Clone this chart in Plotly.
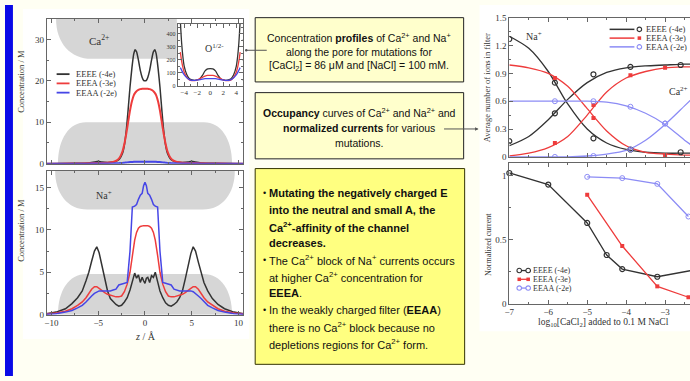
import plotly.graph_objects as go

# ---------------- data ----------------
# Ca2+ concentration profiles (top-left panel)
Z_CA = [-10.5, -9, -7.5, -6, -5.4, -5, -4.6, -4, -3.4, -3, -2.7, -2.4, -2.2, -2.0, -1.8, -1.6, -1.4, -1.2, -1.05,
        -0.9, -0.7, -0.5, -0.3, -0.15, 0, 0.15, 0.3, 0.5, 0.7, 0.9, 1.05, 1.2, 1.4, 1.6, 1.8, 2.0, 2.2, 2.4, 2.7,
        3, 3.4, 4, 4.6, 5, 5.4, 6, 7.5, 9, 10.5]
CA_EEEE = [0, 0.05, 0.1, 0.2, 0.4, 0.6, 0.4, 0.3, 0.4, 0.7, 1.2, 2.5, 4.5, 8, 13, 18.5, 23, 26.5, 27.5,
           27, 25, 22.5, 20.8, 20.1, 20, 20.1, 20.8, 22.5, 25, 27, 27.5, 26.5, 23, 18.5, 13, 8, 4.5, 2.5, 1.2,
           0.7, 0.4, 0.3, 0.4, 0.6, 0.4, 0.2, 0.1, 0.05, 0]
CA_EEEA = [0, 0.02, 0.05, 0.1, 0.15, 0.2, 0.2, 0.25, 0.4, 0.8, 1.5, 3, 4.8, 7.2, 10, 12.8, 15, 16.5, 17.1,
           17.5, 17.8, 18, 18.1, 18.1, 18.1, 18.1, 18.1, 18, 17.8, 17.5, 17.1, 16.5, 15, 12.8, 10, 7.2, 4.8, 3, 1.5,
           0.8, 0.4, 0.25, 0.2, 0.2, 0.15, 0.1, 0.05, 0.02, 0]
CA_EEAA = [0, 0, 0.01, 0.02, 0.03, 0.04, 0.04, 0.05, 0.08, 0.1, 0.15, 0.2, 0.25, 0.3, 0.35, 0.4, 0.42, 0.45, 0.46,
           0.47, 0.48, 0.5, 0.5, 0.5, 0.5, 0.5, 0.5, 0.5, 0.48, 0.47, 0.46, 0.45, 0.42, 0.4, 0.35, 0.3, 0.25, 0.2, 0.15,
           0.1, 0.08, 0.05, 0.04, 0.04, 0.03, 0.02, 0.01, 0, 0]

# O1/2- inset
Z_O = [-4.6, -4.4, -4.2, -4.0, -3.6, -3.2, -2.8, -2.4, -2.0, -1.6, -1.2, -0.8, -0.4, 0,
       0.4, 0.8, 1.2, 1.6, 2.0, 2.4, 2.8, 3.2, 3.6, 4.0, 4.2, 4.4, 4.6]
O_EEEE = [500, 330, 220, 150, 85, 55, 45, 42, 45, 55, 80, 115, 130, 132,
          130, 115, 80, 55, 45, 42, 45, 55, 85, 150, 220, 330, 500]
O_EEEA = [260, 190, 140, 105, 65, 45, 40, 40, 45, 55, 65, 75, 80, 80,
          80, 75, 65, 55, 45, 40, 40, 45, 65, 105, 140, 190, 260]
O_EEAA = [140, 120, 100, 85, 62, 48, 42, 42, 45, 48, 52, 55, 55, 55,
          55, 55, 52, 48, 45, 42, 42, 48, 62, 85, 100, 120, 140]

# Na+ concentration profiles (bottom-left panel)
Z_NA = [-10.5, -9.5, -8.5, -7.8, -7.2, -6.7, -6.3, -6.0, -5.7, -5.4, -5.15, -4.9, -4.6, -4.3, -4.0, -3.7, -3.4,
        -3.1, -2.8, -2.5, -2.2, -1.9, -1.6, -1.35, -1.1, -0.9, -0.7, -0.5, -0.3, -0.15, 0, 0.15, 0.3, 0.5, 0.7,
        0.9, 1.1, 1.35, 1.6, 1.9, 2.2, 2.5, 2.8, 3.1, 3.4, 3.7, 4.0, 4.3, 4.6, 4.9, 5.15, 5.4, 5.7, 6.0, 6.3,
        6.7, 7.2, 7.8, 8.5, 9.5, 10.5]
NA_EEEE = [0.1, 0.3, 0.7, 1.3, 2.0, 2.8, 4.0, 5.0, 6.3, 7.5, 8.0, 7.3, 5.8, 4.2, 2.8, 1.9, 1.5,
           1.2, 1.0, 1.1, 1.5, 2.0, 2.9, 3.8, 4.9, 4.3, 4.7, 3.8, 4.4, 4.0, 3.7, 4.3, 4.4, 3.8, 4.6,
           4.4, 5.0, 3.9, 2.8, 2.0, 1.4, 1.1, 1.0, 1.2, 1.5, 2.0, 2.8, 4.2, 5.8, 7.2, 8.0, 7.5, 6.2, 5.0, 3.8,
           2.8, 1.9, 1.2, 0.7, 0.3, 0.1]
NA_EEEA = [0.1, 0.2, 0.4, 0.7, 1.1, 1.5, 2.0, 2.5, 3.0, 3.3, 3.3, 3.1, 2.8, 2.6, 2.4, 2.3, 2.2,
           2.1, 2.1, 2.2, 2.7, 3.6, 5.0, 7.0, 8.8, 9.7, 10.2, 10.4, 10.5, 10.5, 10.5, 10.5, 10.5, 10.4, 10.2,
           9.7, 8.8, 7.0, 5.0, 3.6, 2.7, 2.2, 2.1, 2.1, 2.2, 2.3, 2.4, 2.6, 2.8, 3.1, 3.3, 3.3, 3.0, 2.5, 2.0,
           1.5, 1.1, 0.7, 0.4, 0.2, 0.1]
NA_EEAA = [0.05, 0.1, 0.3, 0.5, 0.8, 1.1, 1.5, 1.9, 2.2, 2.5, 2.7, 2.8, 2.8, 2.8, 2.8, 2.8, 2.9,
           3.0, 3.5, 3.6, 3.7, 3.8, 7.5, 12.7, 12.8, 13.0, 13.6, 14.1, 14.3, 15.2, 15.6, 15.2, 14.3, 14.1, 13.6,
           13.0, 12.8, 12.7, 7.5, 3.8, 3.7, 3.6, 3.5, 3.0, 2.9, 2.8, 2.8, 2.8, 2.8, 2.8, 2.7, 2.5, 2.2, 1.9, 1.5,
           1.1, 0.8, 0.5, 0.3, 0.1, 0.05]

# Occupancy (top-right panel): fitted curves
LOGC = [-7, -6.5, -6, -5.5, -5, -4.5, -4, -3.5, -3, -2.5, -2.3]
OCC_NA_EEEE = [1.30, 1.17, 0.92, 0.57, 0.30, 0.15, 0.08, 0.05, 0.04, 0.04, 0.04]
OCC_CA_EEEE = [0.12, 0.22, 0.40, 0.62, 0.80, 0.91, 0.96, 0.98, 0.99, 1.0, 1.0]
OCC_NA_EEEA = [0.99, 0.96, 0.90, 0.76, 0.52, 0.28, 0.12, 0.05, 0.03, 0.02, 0.02]
OCC_CA_EEEA = [0.01, 0.04, 0.10, 0.22, 0.45, 0.70, 0.85, 0.92, 0.96, 0.97, 0.97]
OCC_NA_EEAA = [0.60, 0.60, 0.60, 0.60, 0.60, 0.59, 0.55, 0.47, 0.35, 0.18, 0.12]
OCC_CA_EEAA = [0.0, 0.0, 0.0, 0.0, 0.01, 0.03, 0.07, 0.18, 0.35, 0.55, 0.63]
# Occupancy simulation points
PT_EEEE_X = [-7, -5.83, -4.84, -3.89, -2.6]
PT_EEEE_NA = [1.27, 0.80, 0.20, 0.08, 0.05]
PT_EEEE_CA = [0.17, 0.47, 0.89, 0.97, 0.99]
PT_EEEA_NA_X = [-5.83, -4.84, -3.0]
PT_EEEA_NA = [0.85, 0.42, 0.02]
PT_EEEA_CA_X = [-5.83, -4.84, -3.89, -3.0]
PT_EEEA_CA = [0.15, 0.56, 0.88, 0.96]
PT_EEAA_X = [-5.83, -4.84, -3.89, -3.0]
PT_EEAA_NA = [0.60, 0.60, 0.54, 0.36]
PT_EEAA_CA = [0.0, 0.01, 0.08, 0.36]

# Normalized current (bottom-right panel)
CUR_EEEE_X = [-7, -6, -5, -4.5, -4.1, -3.2, -2.3]
CUR_EEEE = [1.02, 0.93, 0.63, 0.38, 0.27, 0.21, 0.26]
CUR_EEEA_X = [-5, -4.1, -3.2, -2.4]
CUR_EEEA = [0.85, 0.45, 0.135, 0.05]
CUR_EEAA_X = [-5, -4.1, -3.2, -2.4]
CUR_EEAA = [0.99, 0.98, 0.935, 0.68]

NAMES = ["EEEE (-4e)", "EEEA (-3e)", "EEAA (-2e)"]

# ---------------- style ----------------
W, H = 690, 381
SERIF = "Liberation Serif, Times New Roman, serif"
SANS = "Liberation Sans, Arial, sans-serif"
BLACK = "#333333"
RED = "#ee3c3c"
BLUE = "#4646e6"
LBLUE = "#8c8cf5"
GRAY = "#d6d6d6"
AXC = "#666666"
TXT = "#333333"
COLORS = [BLACK, RED, BLUE]
COLORS_R = [BLACK, RED, LBLUE]


def px(x):
    return x / W


def py(y):
    return 1 - y / H


fig = go.Figure()

# Ca panel
for y, c, w in [(CA_EEEE, BLACK, 1.5), (CA_EEEA, RED, 2), (CA_EEAA, BLUE, 2)]:
    fig.add_trace(go.Scatter(x=Z_CA, y=y, mode="lines", line=dict(color=c, width=w, shape="spline", smoothing=0.6),
                             showlegend=False, xaxis="x", yaxis="y"))
# inset
for y, c in [(O_EEEE, BLACK), (O_EEEA, RED), (O_EEAA, BLUE)]:
    fig.add_trace(go.Scatter(x=Z_O, y=y, mode="lines", line=dict(color=c, width=1.3, shape="spline", smoothing=0.8),
                             showlegend=False, xaxis="x3", yaxis="y3"))
# Na panel
for y, c in [(NA_EEEE, BLACK), (NA_EEEA, RED), (NA_EEAA, BLUE)]:
    fig.add_trace(go.Scatter(x=Z_NA, y=y, mode="lines", line=dict(color=c, width=1.5),
                             showlegend=False, xaxis="x2", yaxis="y2"))

# occupancy curves
for y, c in [(OCC_NA_EEEE, BLACK), (OCC_CA_EEEE, BLACK), (OCC_NA_EEEA, RED), (OCC_CA_EEEA, RED),
             (OCC_NA_EEAA, LBLUE), (OCC_CA_EEAA, LBLUE)]:
    fig.add_trace(go.Scatter(x=LOGC, y=y, mode="lines", line=dict(color=c, width=1.3, shape="spline", smoothing=0.8),
                             showlegend=False, xaxis="x4", yaxis="y4"))
mk_black = dict(symbol="circle-open", size=5, color=BLACK, line=dict(width=1.2))
mk_red = dict(symbol="square", size=4, color=RED)
mk_blue = dict(symbol="circle-open", size=5, color=LBLUE, line=dict(width=1))
for xs, ys, mk in [(PT_EEEE_X, PT_EEEE_NA, mk_black), (PT_EEEE_X, PT_EEEE_CA, mk_black),
                   (PT_EEEA_NA_X, PT_EEEA_NA, mk_red), (PT_EEEA_CA_X, PT_EEEA_CA, mk_red),
                   (PT_EEAA_X, PT_EEAA_NA, mk_blue), (PT_EEAA_X, PT_EEAA_CA, mk_blue)]:
    fig.add_trace(go.Scatter(x=xs, y=ys, mode="markers", marker=mk, showlegend=False, xaxis="x4", yaxis="y4"))

# normalized current
for xs, ys, c, mk in [(CUR_EEEE_X, CUR_EEEE, BLACK, mk_black),
                      (CUR_EEEA_X, CUR_EEEA, RED, mk_red),
                      (CUR_EEAA_X, CUR_EEAA, LBLUE, mk_blue)]:
    fig.add_trace(go.Scatter(x=xs, y=ys, mode="lines+markers", line=dict(color=c, width=1.3), marker=mk,
                             showlegend=False, xaxis="x5", yaxis="y5", cliponaxis=False))


def axis(domain, rng, dtick, minor, labels=True, mirror="allticks", anchor=None, fs=9):
    d = dict(domain=domain, range=rng, showline=True, linecolor=AXC, linewidth=1, mirror=mirror,
             ticks="inside", ticklen=4, tickcolor=AXC, tickwidth=1, dtick=dtick, tick0=0,
             showticklabels=labels, tickfont=dict(family=SERIF, size=fs, color=TXT),
             showgrid=False, zeroline=False, fixedrange=True,
             minor=dict(ticks="inside", ticklen=2, tickcolor=AXC, dtick=minor, tick0=0, showgrid=False))
    if anchor:
        d["anchor"] = anchor
    return d


XD_L = [px(42), px(240)]
XD_R = [px(508), 1.0]
fig.update_layout(
    width=W, height=H, margin=dict(l=0, r=0, t=0, b=0),
    paper_bgcolor="#fffff3", plot_bgcolor="white", showlegend=False,
    xaxis=axis(XD_L, [-10.5, 10.5], 5, 2.5, labels=False, anchor="y"),
    yaxis=axis([py(163), py(14)], [0, 35], 10, 5, anchor="x"),
    xaxis2=axis(XD_L, [-10.5, 10.5], 5, 2.5, anchor="y2"),
    yaxis2=axis([py(318), py(170)], [0, 17], 5, 2.5, anchor="x2"),
    xaxis3=axis([px(174), px(239.5)], [-5, 5], 2, 1, anchor="y3", fs=7),
    yaxis3=axis([py(83), py(19)], [0, 480], 100, 50, anchor="x3", fs=6),
    xaxis4=axis(XD_R, [-7, -2.36], 1, 0.5, labels=False, anchor="y4"),
    yaxis4=axis([py(156), py(13)], [0, 1.5], 0.3, 0.15, mirror=False, anchor="x4"),
    xaxis5=axis(XD_R, [-7, -2.36], 1, 0.5, anchor="y5"),
    yaxis5=axis([py(306.7), py(162)], [0, 1.1], 0.5, 0.25, mirror=False, anchor="x5"),
)

shapes = []
# slide decorations
shapes.append(dict(type="rect", xref="paper", yref="paper", x0=0, x1=px(8), y0=0, y1=1,
                   fillcolor="#0a0ae6", line=dict(width=0), layer="below"))
shapes.append(dict(type="rect", xref="paper", yref="paper", x0=px(18), x1=px(246), y0=py(343), y1=py(4),
                   fillcolor="white", line=dict(width=0), layer="below"))
shapes.append(dict(type="rect", xref="paper", yref="paper", x0=px(478), x1=1, y0=py(335), y1=1,
                   fillcolor="white", line=dict(width=0), layer="below"))
# text boxes
shapes.append(dict(type="rect", xref="paper", yref="paper", x0=px(252), x1=px(462), y0=py(79), y1=py(13),
                   fillcolor="#ffffcc", line=dict(color="#222222", width=1), layer="below"))
shapes.append(dict(type="rect", xref="paper", yref="paper", x0=px(252), x1=px(462), y0=py(158), y1=py(90),
                   fillcolor="#ffffcc", line=dict(color="#222222", width=1), layer="below"))
shapes.append(dict(type="rect", xref="paper", yref="paper", x0=px(252), x1=px(463), y0=py(369), y1=py(168),
                   fillcolor="#ffff80", line=dict(color="#333300", width=1), layer="below"))


def pore_bottom(xr, yr, x0, x1, h, r):
    return dict(type="path", xref=xr, yref=yr, layer="below", fillcolor=GRAY, line=dict(width=0),
                path=f"M {x0},0 C {x0},{0.6*h} {x0+0.4*r},{h} {x0+r},{h} L {x1-r},{h} "
                     f"C {x1-0.4*r},{h} {x1},{0.6*h} {x1},0 Z")


def pore_top(xr, yr, x0, x1, top, low, r, flat_right=False):
    h = top - low
    if flat_right:
        p = (f"M {x0},{top} C {x0},{top-0.6*h} {x0+0.4*r},{low} {x0+r},{low} L {x1},{low} L {x1},{top} Z")
    else:
        p = (f"M {x0},{top} C {x0},{top-0.6*h} {x0+0.4*r},{low} {x0+r},{low} L {x1-r},{low} "
             f"C {x1-0.4*r},{low} {x1},{top-0.6*h} {x1},{top} Z")
    return dict(type="path", xref=xr, yref=yr, layer="below", fillcolor=GRAY, line=dict(width=0), path=p)


shapes.append(pore_bottom("x", "y", -9.3, 9.3, 10, 3.0))
shapes.append(pore_top("x", "y", -9.5, 3.4, 35, 25.3, 3.8, flat_right=True))
shapes.append(pore_bottom("x2", "y2", -9.3, 9.3, 4.8, 3.0))
shapes.append(pore_top("x2", "y2", -9.6, 9.6, 17, 12.4, 3.4))

ann = []


def text(x, y, t, size=9, family=SANS, xanchor="center", color="#111111", angle=0, yanchor="middle"):
    ann.append(dict(x=px(x), y=py(y), xref="paper", yref="paper", text=t, showarrow=False, xanchor=xanchor,
                    yanchor=yanchor, textangle=angle, font=dict(family=family, size=size, color=color)))


# ---- hand-made legends (line samples + marker glyphs in page pixels) ----
def seg(x0, x1, y, color, w=1.5):
    shapes.append(dict(type="line", xref="paper", yref="paper", x0=px(x0), x1=px(x1), y0=py(y), y1=py(y),
                       line=dict(color=color, width=w)))


def dot(cx, cy, color, kind):
    r = 2.3
    if kind == "square":
        shapes.append(dict(type="rect", xref="paper", yref="paper", x0=px(cx - 1.8), x1=px(cx + 1.8),
                           y0=py(cy + 1.8), y1=py(cy - 1.8), fillcolor=color, line=dict(width=0)))
    else:
        shapes.append(dict(type="circle", xref="paper", yref="paper", x0=px(cx - r), x1=px(cx + r),
                           y0=py(cy + r), y1=py(cy - r), fillcolor="white",
                           line=dict(color=color, width=1.1)))


KINDS = ["circle", "square", "circle"]
# Ca panel legend
for i, (n, c) in enumerate(zip(NAMES, COLORS)):
    y = 71 + 9.5 * i
    seg(52, 65, y, c, 1.8)
    text(70, y, n, 8.5, SERIF, xanchor="left", color=TXT)
# occupancy legend
for i, (n, c, k) in enumerate(zip(NAMES, COLORS_R, KINDS)):
    y = 25 + 9 * i
    seg(609, 634, y, c, 1.5)
    dot(639, y, c, k)
    text(644, y, n, 8.5, SERIF, xanchor="left", color=TXT)
# current legend
for i, (n, c, k) in enumerate(zip(NAMES, COLORS_R, KINDS)):
    y = 272.7 + 9 * i
    seg(518, 527, y, c, 1.3)
    dot(518, y, c, k)
    dot(527, y, c, k)
    text(530, y, n, 8, SERIF, xanchor="left", color=TXT)

# axis titles
text(16, 78, "Concentration / M", 8.5, SERIF, color=TXT, angle=-90)
text(16, 231, "Concentration / M", 8.5, SERIF, color=TXT, angle=-90)
text(142, 340, "<i>z</i> / Å", 10, SERIF, color=TXT)
text(485, 85, "Average number of ions in filter", 8.5, SERIF, color=TXT, angle=-90)
text(487, 246, "Normalized current", 8, SERIF, color=TXT, angle=-90)
text(603, 326, "log<sub>10</sub>[CaCl<sub>2</sub>] added to 0.1 M NaCl", 9.5, SERIF, color=TXT)
# panel labels
text(95, 36, "Ca<sup>2+</sup>", 11, SERIF, color=TXT)
text(100, 195, "Na<sup>+</sup>", 10, SERIF, color=TXT)
text(211, 44, "O<sup>1/2-</sup>", 10, SERIF, color=TXT)
text(533, 32, "Na<sup>+</sup>", 10, SERIF, color=TXT)
text(690, 88, "Ca<sup>2+</sup>", 10, SERIF, color=TXT, xanchor="right")

# box 1
text(357, 33, "Concentration <b>profiles</b> of Ca<sup>2+</sup> and Na<sup>+</sup>", 10.5)
text(357, 48, "along the pore for mutations for", 10.5)
text(357, 63, "[CaCl<sub>2</sub>] = 86 μM and [NaCl] = 100 mM.", 10.5)
# box 2
text(357, 110, "<b>Occupancy</b> curves of Ca<sup>2+</sup> and Na<sup>2+</sup> and", 10.5)
text(357, 126, "<b>normalized currents</b> for various", 10.5)
text(357, 142, "mutations.", 10.5)
# box 3
B3 = [
    (193, True, "<b>Mutating the negatively charged E</b>"),
    (210.5, False, "<b>into the neutral and small A, the</b>"),
    (227.5, False, "<b>Ca<sup>2+</sup>-affinity of the channel</b>"),
    (244.5, False, "<b>decreases.</b>"),
    (262, True, "The Ca<sup>2+</sup> block of Na<sup>+</sup> currents occurs"),
    (279, False, "at higher Ca<sup>2+</sup> concentration for"),
    (296, False, "<b>EEEA</b>."),
    (313, True, "In the weakly charged filter (<b>EEAA</b>)"),
    (330.5, False, "there is no Ca<sup>2+</sup> block because no"),
    (348, False, "depletions regions for Ca<sup>2+</sup> form."),
]
for y, bullet, t in B3:
    if bullet:
        text(258, y, "•", 9, xanchor="left")
    text(264, y, t, 11, xanchor="left")

# connector arrows
ann.append(dict(x=px(243), y=py(46.5), xref="paper", yref="paper", ax=22, ay=0, axref="pixel", ayref="pixel",
                text="", showarrow=True, arrowhead=6, arrowsize=0.6, arrowwidth=1, arrowcolor="#555555"))
ann.append(dict(x=px(477), y=py(127.3), xref="paper", yref="paper", ax=-36, ay=0, text="", showarrow=True,
                arrowhead=2, arrowsize=0.7, arrowwidth=1, arrowcolor="#555555"))
fig.update_layout(shapes=shapes, annotations=ann)

fig.write_html("out.html")
